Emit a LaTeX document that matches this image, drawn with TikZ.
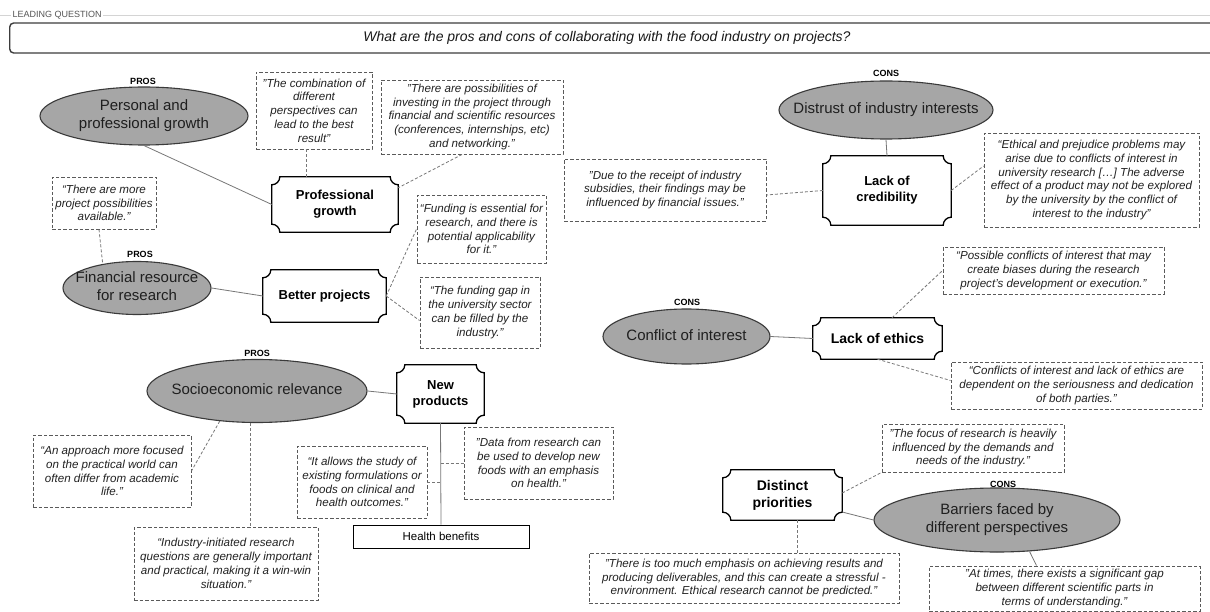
\documentclass[tikz,border=0pt]{standalone}
\usepackage{fontspec}
\setmainfont{Liberation Sans}
\usetikzlibrary{shapes.geometric,calc}
\definecolor{ellfill}{HTML}{A6A6A6}
\definecolor{ellline}{HTML}{3A3A3A}
\definecolor{quoteline}{HTML}{5A5A5A}
\definecolor{qtext}{HTML}{222222}
\definecolor{conline}{HTML}{777777}
\definecolor{hdrline}{HTML}{D4D4D4}
\definecolor{hdrtext}{HTML}{555555}
\definecolor{qline}{HTML}{3C3C3C}
\newcommand\ctext[1]{\makebox[0pt]{\begin{tabular}{@{}c@{}}#1\end{tabular}}}
\newcommand\drawplaque[1]{%
  \draw[plaqueline] ($(#1.north west)+(8pt,0pt)$) -- ($(#1.north east)+(-8pt,0pt)$)
    arc[start angle=180,end angle=270,radius=8pt]
    -- ($(#1.south east)+(0pt,8pt)$)
    arc[start angle=90,end angle=180,radius=8pt]
    -- ($(#1.south west)+(8pt,0pt)$)
    arc[start angle=0,end angle=90,radius=8pt]
    -- ($(#1.north west)+(0pt,-8pt)$)
    arc[start angle=270,end angle=360,radius=8pt] -- cycle;}
\tikzset{
  quote/.style={draw=quoteline, line width=0.9pt, dash pattern=on 3.5pt off 2pt,
    align=center, inner sep=1pt, font=\fontsize{11.6}{13.8}\selectfont\itshape, text=qtext},
  ellnode/.style={ellipse, draw=ellline, line width=1.1pt, fill=ellfill, inner sep=0pt,
    font=\fontsize{15}{18}\selectfont, text=black!88},
  plaquenode/.style={rectangle, inner sep=0pt, align=center,
    font=\fontsize{13}{16}\selectfont\bfseries},
  plaqueline/.style={draw=black, line width=1.3pt},
  tag/.style={font=\fontsize{9}{10}\selectfont\bfseries, inner sep=0pt},
  solidcon/.style={draw=conline, line width=0.8pt},
  dashcon/.style={draw=conline, line width=0.8pt, dash pattern=on 3pt off 2pt},
}
\begin{document}
\begin{tikzpicture}[x=1pt,y=1pt]
\useasboundingbox (0,0) rectangle (1210,-612);
\clip (0,0) rectangle (1210,-612);
\fill[white] (0,0) rectangle (1210,-612);
% header
\draw[hdrline, line width=0.8pt] (0,-15) -- (1210,-15);
\node[anchor=west, fill=white, inner sep=1.5pt, font=\fontsize{9}{10}\selectfont, text=hdrtext] (lq) at (11,-15) {LEADING QUESTION};
\node[draw=qline, line width=1.4pt, rounded corners=4pt, minimum width=1230pt, minimum height=30pt, anchor=west, inner sep=0pt] (qbox) at (9,-38) {};
\node[font=\fontsize{14}{16}\selectfont\itshape, text=black!90] (qtext) at (607,-38) {What are the pros and cons of collaborating with the food industry on projects?};

% ellipses
\node[ellnode, minimum width=208pt, minimum height=58pt] (E1) at (144,-116) {\ctext{Personal and\\professional growth}};
\node[ellnode, minimum width=148pt, minimum height=53pt] (E2) at (137,-288) {\ctext{Financial resource\\for research}};
\node[ellnode, minimum width=220pt, minimum height=63pt] (E3) at (257,-391) {\ctext{Socioeconomic relevance}};
\node[ellnode, minimum width=214pt, minimum height=58pt] (E4) at (886,-110) {\ctext{Distrust of industry interests}};
\node[ellnode, minimum width=167pt, minimum height=55pt] (E5) at (686.5,-336.5) {\ctext{Conflict of interest}};
\node[ellnode, minimum width=246pt, minimum height=64pt] (E6) at (997,-520) {\ctext{Barriers faced by\\different perspectives}};

% tags
\node[tag] (L1) at (143,-81) {PROS};
\node[tag] (L2) at (140,-254) {PROS};
\node[tag] (L3) at (257,-353) {PROS};
\node[tag] (L4) at (886,-73) {CONS};
\node[tag] (L5) at (687,-302) {CONS};
\node[tag] (L6) at (1003,-484) {CONS};

% plaques
\node[plaquenode, minimum width=126pt, minimum height=55pt] (P1) at (335,-204.5) {Professional\\growth};
\node[plaquenode, minimum width=123pt, minimum height=52pt] (P2) at (324.5,-296) {Better projects};
\node[plaquenode, minimum width=87pt, minimum height=58pt] (P3) at (440.5,-394) {New\\products};
\node[plaquenode, minimum width=128pt, minimum height=69pt] (P4) at (887,-190.5) {Lack of\\credibility};
\node[plaquenode, minimum width=129pt, minimum height=41pt, font=\fontsize{14}{17}\selectfont\bfseries] (P5) at (877.5,-338.5) {Lack of ethics};
\node[plaquenode, minimum width=119pt, minimum height=50pt, font=\fontsize{14}{17}\selectfont\bfseries] (P6) at (782.5,-495) {Distinct\\priorities};
\drawplaque{P1}
\drawplaque{P2}
\drawplaque{P3}
\drawplaque{P4}
\drawplaque{P5}
\drawplaque{P6}

% health benefits
\node[draw=black, line width=0.9pt, minimum width=176pt, minimum height=23pt, inner sep=0pt, font=\fontsize{11.5}{14}\selectfont] (HB) at (441,-536.5) {Health benefits};

% quotes
\node[quote, minimum width=116pt, minimum height=77pt] (Q1) at (314,-110.5) {"The combination of\\different\\perspectives can\\lead to the best\\result"};
\node[quote, minimum width=182pt, minimum height=74pt] (Q2) at (472,-117) {"There are possibilities of\\investing in the project through\\financial and scientific resources\\(conferences, internships, etc)\\and networking."};
\node[quote, minimum width=104pt, minimum height=52pt] (Q3) at (104,-203) {“There are more\\project possibilities\\available.”};
\node[quote, minimum width=129pt, minimum height=68pt] (Q4) at (481.5,-229) {“Funding is essential for\\research, and there is\\potential applicability\\for it.”};
\node[quote, minimum width=120pt, minimum height=71pt] (Q5) at (480,-312.5) {“The funding gap in\\the university sector\\can be filled by the\\industry.”};
\node[quote, minimum width=158pt, minimum height=72pt] (Q6) at (112,-471) {“An approach more focused\\on the practical world can\\often differ from academic\\life.”};
\node[quote, minimum width=184pt, minimum height=73pt] (Q7) at (226,-563.5) {“Industry-initiated research\\questions are generally important\\and practical, making it a win-win\\situation.”};
\node[quote, minimum width=130pt, minimum height=72pt] (Q8) at (362,-482) {“It allows the study of\\existing formulations or\\foods on clinical and\\health outcomes.”};
\node[quote, minimum width=149pt, minimum height=72pt] (Q9) at (538.5,-463) {"Data from research can\\be used to develop new\\foods with an emphasis\\on health."};
\node[quote, minimum width=202pt, minimum height=62pt] (Q10) at (665,-190) {"Due to the receipt of industry\\subsidies, their findings may be\\influenced by financial issues."};
\node[quote, minimum width=215pt, minimum height=94pt] (Q11) at (1091.5,-180) {“Ethical and prejudice problems may\\arise due to conflicts of interest in\\university research […] The adverse\\effect of a product may not be explored\\by the university by the conflict of\\interest to the industry”};
\node[quote, minimum width=221pt, minimum height=47pt] (Q12) at (1053.5,-270.5) {“Possible conflicts of interest that may\\create biases during the research\\project’s development or execution.”};
\node[quote, minimum width=251pt, minimum height=47pt] (Q13) at (1076.5,-385.5) {“Conflicts of interest and lack of ethics are\\dependent on the seriousness and dedication\\of both parties.”};
\node[quote, minimum width=182pt, minimum height=48pt] (Q14) at (973,-448) {"The focus of research is heavily\\influenced by the demands and\\needs of the industry."};
\node[quote, minimum width=310pt, minimum height=50pt] (Q15) at (744,-578) {"There is too much emphasis on achieving results and\\producing deliverables, and this can create a stressful -\\environment. Ethical research cannot be predicted."};
\node[quote, minimum width=271pt, minimum height=45pt] (Q16) at (1064.5,-588.5) {"At times, there exists a significant gap\\between different scientific parts in\\terms of understanding."};

% helper coordinates
\coordinate (c1) at ([xshift=-8pt]Q1.south);
\coordinate (c2) at ([xshift=-10pt]Q2.south);
\coordinate (c3) at ([xshift=-5pt]Q3.south);
\coordinate (c4) at ([xshift=-7pt]E3.south);
\coordinate (c5) at ([xshift=15pt]P6.south);
\coordinate (c6) at ([xshift=14.5pt]P5.north);

% connectors
\draw[solidcon] (E1.south) -- (P1.west);
\draw[dashcon] (c1) -- (c1 |- P1.north);
\draw[dashcon] (c2) -- ([yshift=-11pt]P1.north east);
\draw[dashcon] (c3) -- (E2.145);
\draw[solidcon] (E2.east) -- (P2.west);
\draw[dashcon] (P2.east) -- (Q4.west);
\draw[dashcon] (P2.east) -- ([yshift=-8pt]Q5.west);
\draw[solidcon] (E3.east) -- (P3.west);
\draw[dashcon] (E3.219) -- (Q6.east);
\draw[dashcon] (c4) -- (c4 |- Q7.north);
\draw[solidcon] (P3.south) -- (HB.north);
\draw[dashcon] (Q8.east) -- (Q8.east -| P3.south);
\draw[dashcon] (Q9.west -| P3.south) -- (Q9.west);
\draw[solidcon] (E4.south) -- (P4.north);
\draw[dashcon] (P4.west) -- ([yshift=-5pt]Q10.east);
\draw[dashcon] (P4.east) -- ([yshift=14pt]Q11.west);
\draw[solidcon] (E5.east) -- (P5.west);
\draw[dashcon] (c6) -- (Q12.west);
\draw[dashcon] (P5.south) -- ([yshift=5pt]Q13.west);
\draw[dashcon] ([yshift=2pt]P6.east) -- (Q14.south west);
\draw[solidcon] ([yshift=-17pt]P6.east) -- (E6.west);
\draw[dashcon] (c5) -- (c5 |- Q15.north);
\draw[solidcon] (E6.-44) -- ([xshift=-28pt]Q16.north);
\end{tikzpicture}
\end{document}
